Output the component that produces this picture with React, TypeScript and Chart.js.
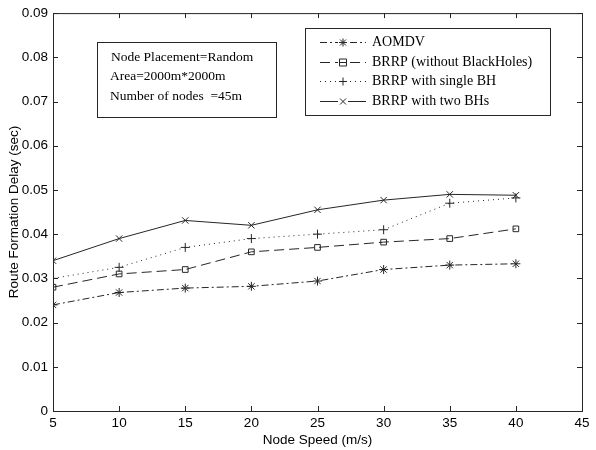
import React, { useEffect, useRef } from "react";
import { Chart, registerables } from "chart.js";

Chart.register(...registerables);

const speeds = [5, 10, 15, 20, 25, 30, 35, 40];
const aomdv = [0.024, 0.0268, 0.0278, 0.0282, 0.0294, 0.032, 0.033, 0.0333];
const brrpNoBH = [0.028, 0.031, 0.032, 0.036, 0.037, 0.0382, 0.039, 0.0412];
const brrpSingle = [0.030, 0.0325, 0.037, 0.039, 0.040, 0.041, 0.047, 0.0482];
const brrpTwo = [0.034, 0.039, 0.0431, 0.042, 0.0455, 0.0477, 0.049, 0.0488];
const seriesNames = ["AOMDV", "BRRP (without BlackHoles)", "BRRP with single BH", "BRRP with two BHs"];
const infoLines = ["Node Placement=Random", "Area=2000m*2000m", "Number of nodes  =45m"];

const INK = "#262626";
const dashes = [[7, 3, 2, 3], [10, 5], [1, 4], []];
const styles = ["star", "rect", "cross", "crossRot"];
const AXFONT = "'Liberation Sans', Arial";

export default function App() {
  const ref = useRef<HTMLCanvasElement>(null);
  useEffect(() => {
    const all = [aomdv, brrpNoBH, brrpSingle, brrpTwo];
    const datasets = all.map((vals, i) => ({
      label: seriesNames[i],
      data: speeds.map((s, j) => ({ x: s, y: vals[j] })),
      borderColor: INK,
      backgroundColor: "rgba(0,0,0,0)",
      borderWidth: 1,
      borderDash: dashes[i],
      pointStyle: styles[i] as any,
      pointRadius: i === 1 ? 4 : 4.5,
      pointBorderColor: INK,
      pointBackgroundColor: "rgba(0,0,0,0)",
      pointBorderWidth: 1,
      tension: 0,
    }));

    function drawMarker(ctx: CanvasRenderingContext2D, st: string, x: number, y: number, r: number) {
      ctx.save();
      ctx.fillStyle = "#fff";
      ctx.fillRect(x - r - 1, y - r - 1, 2 * r + 2, 2 * r + 2);
      ctx.strokeStyle = INK;
      ctx.beginPath();
      if (st === "rect") {
        ctx.rect(x - r + 0.5, y - r + 0.5, 2 * r - 1, 2 * r - 1);
        ctx.moveTo(x - r + 1, y); ctx.lineTo(x + r - 1, y);
      } else {
        const d = r * 0.75;
        if (st === "cross" || st === "star") {
          ctx.moveTo(x - r, y); ctx.lineTo(x + r, y);
          ctx.moveTo(x, y - r); ctx.lineTo(x, y + r);
        }
        if (st === "crossRot" || st === "star") {
          ctx.moveTo(x - d, y - d); ctx.lineTo(x + d, y + d);
          ctx.moveTo(x - d, y + d); ctx.lineTo(x + d, y - d);
        }
      }
      ctx.stroke();
      ctx.restore();
    }

    const frame = {
      id: "frame",
      afterDraw(chart: any) {
        const { ctx, chartArea: a, scales } = chart;
        ctx.save();
        ctx.strokeStyle = INK;
        ctx.lineWidth = 1;
        ctx.setLineDash([]);
        ctx.strokeRect(a.left + 0.5, a.top + 0.5, a.right - a.left, a.bottom - a.top);
        const tl = 5;
        scales.x.ticks.forEach((t: any) => {
          const px = Math.round(scales.x.getPixelForValue(t.value)) + 0.5;
          ctx.beginPath();
          ctx.moveTo(px, a.bottom); ctx.lineTo(px, a.bottom - tl);
          ctx.moveTo(px, a.top); ctx.lineTo(px, a.top + tl);
          ctx.stroke();
        });
        scales.y.ticks.forEach((t: any) => {
          const py = Math.round(scales.y.getPixelForValue(t.value)) + 0.5;
          ctx.beginPath();
          ctx.moveTo(a.left, py); ctx.lineTo(a.left + tl, py);
          ctx.moveTo(a.right, py); ctx.lineTo(a.right - tl, py);
          ctx.stroke();
        });

        // info box
        ctx.fillStyle = "#fff";
        ctx.fillRect(97, 42, 179, 75);
        ctx.strokeRect(97.5, 42.5, 179, 75);
        ctx.fillStyle = "#000";
        ctx.font = "13.5px 'Liberation Serif'";
        ctx.textBaseline = "middle";
        ctx.textAlign = "left";
        const iy = [57, 76, 96];
        infoLines.forEach((s, i) => ctx.fillText(s, i === 0 ? 111 : 110, iy[i]));

        // legend
        ctx.fillStyle = "#fff";
        ctx.fillRect(305, 28, 245, 87);
        ctx.strokeRect(305.5, 28.5, 245, 87);
        ctx.font = "14px 'Liberation Serif'";
        const ly = [42, 62, 81, 101];
        chart.data.datasets.forEach((ds: any, i: number) => {
          const y = ly[i] + 0.5;
          ctx.setLineDash(dashes[i]);
          ctx.beginPath();
          ctx.moveTo(320, y); ctx.lineTo(366, y);
          ctx.stroke();
          ctx.setLineDash([]);
          drawMarker(ctx, styles[i], 343, y, 4);
          ctx.fillStyle = "#000";
          ctx.fillText(ds.label, 372, ly[i]);
        });
        ctx.restore();
      },
    };

    const chart = new Chart(ref.current!, {
      type: "line",
      data: { datasets },
      plugins: [frame],
      options: {
        animation: false,
        responsive: false,
        maintainAspectRatio: false,
        layout: { padding: { left: 0, right: 14, top: 10, bottom: 0 } },
        plugins: { legend: { display: false }, tooltip: { enabled: false } },
        scales: {
          x: {
            type: "linear",
            min: 5,
            max: 45,
            ticks: { stepSize: 5, color: "#000", padding: 4, maxRotation: 0, font: { family: AXFONT, size: 13.5 } },
            grid: { display: false, drawTicks: false },
            border: { display: false },
            title: { display: true, text: "Node Speed (m/s)", color: "#000", padding: { top: 0, bottom: 2 }, font: { family: AXFONT, size: 13.5 } },
            afterFit: (s: any) => { s.height = 39; },
          },
          y: {
            type: "linear",
            min: 0,
            max: 0.09,
            ticks: {
              stepSize: 0.01,
              color: "#000",
              padding: 5,
              font: { family: AXFONT, size: 13.5 },
              callback: (v: any) => (Number(v) === 0 ? "0" : Number(v).toFixed(2)),
            },
            grid: { display: false, drawTicks: false },
            border: { display: false },
            title: { display: true, text: "Route Formation Delay (sec)", color: "#000", padding: { top: 6, bottom: 0 }, font: { family: AXFONT, size: 13.5 } },
            afterFit: (s: any) => { s.width = 53; },
          },
        },
      },
    });
    return () => chart.destroy();
  }, []);

  return (
    <div style={{ position: "absolute", left: 0, top: 0, width: 596, height: 450, background: "#fff" }}>
      <canvas ref={ref} width={596} height={450} style={{ width: 596, height: 450 }} />
    </div>
  );
}
